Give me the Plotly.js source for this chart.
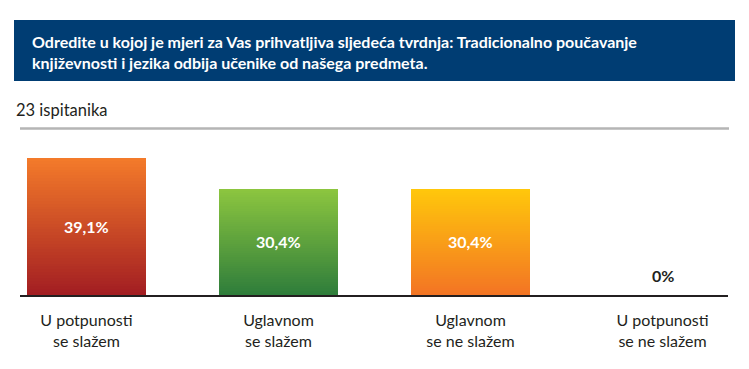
<!DOCTYPE html>
<html>
<head>
<meta charset="utf-8">
<script src="https://cdn.plot.ly/plotly-3.0.1.min.js"></script>
<style>
html,body{margin:0;padding:0;background:#fff;}
#chart{width:749px;height:369px;}
</style>
</head>
<body>
<div id="chart"></div>
<script>
// ---- data ----
var categories = ["U potpunosti<br>se slažem", "Uglavnom<br>se slažem", "Uglavnom<br>se ne slažem", "U potpunosti<br>se ne slažem"];
var values = [39.1, 30.4, 30.4, 0];
var topColors = ["#F47B2A", "#8DC63F", "#FFC80B", "#F47B2A"];
var bottomColors = ["#A21D22", "#2E7D3B", "#F37424", "#A21D22"];
var titleText = "Odredite u kojoj je mjeri za Vas prihvatljiva sljedeća tvrdnja: Tradicionalno poučavanje<br>književnosti i jezika odbija učenike od našega predmeta.";
var subtitleText = "23 ispitanika";

// ---- helpers ----
function hexToRgb(h){h=h.replace('#','');return [parseInt(h.substr(0,2),16),parseInt(h.substr(2,2),16),parseInt(h.substr(4,2),16)];}
function mix(a,b,t){var A=hexToRgb(a),B=hexToRgb(b);return 'rgb('+A.map(function(v,i){return Math.round(v+(B[i]-v)*t);}).join(',')+')';}
function fmt(v){return (v===0?'0':v.toFixed(1).replace('.',','))+'%';}

var W=749,H=369;
function px(x){return x/W;}
function py(y){return (H-y)/H;}

// gradient bars: each bar is stacked from thin slices of its own value
var K = 48;
var traces = [];
for (var k=0;k<K;k++){
  var t=(k+0.5)/K;
  traces.push({
    type:'bar',
    x:categories,
    y:values.map(function(v){return v/K;}),
    marker:{color:values.map(function(v,i){return mix(bottomColors[i],topColors[i],t);}), line:{width:0}},
    hoverinfo:'skip',
    showlegend:false
  });
}

var annotations = values.map(function(v,i){
  return {
    x:categories[i], y:v===0?0:v/2, xref:'x', yref:'y',
    text:fmt(v), showarrow:false,
    yshift:v===0?20:0,
    font:{family:'Lato, "Open Sans", sans-serif', size:16, color:v===0?'#231F20':'#ffffff', weight:'bold'}
  };
});
annotations.push({
  xref:'paper', yref:'paper', x:px(30), y:py(52), xanchor:'left', yanchor:'middle',
  text:'<b>'+titleText+'</b>', align:'left', showarrow:false,
  font:{family:'Lato, sans-serif', size:16, color:'#ffffff'}
});
annotations.push({
  xref:'paper', yref:'paper', x:px(14), y:py(110), xanchor:'left', yanchor:'middle',
  text:subtitleText, showarrow:false,
  font:{family:'Lato, sans-serif', size:16.5, color:'#231F20'}
});

var layout = {
  width:W, height:H,
  margin:{l:0,r:0,t:0,b:0},
  paper_bgcolor:'#ffffff', plot_bgcolor:'#ffffff',
  barmode:'stack', bargap:0.38,
  showlegend:false,
  xaxis:{
    domain:[px(20), px(728)],
    type:'category',
    range:[-0.346, 3.341],
    showgrid:false, zeroline:false,
    showline:true, linecolor:'#231F20', linewidth:1.5,
    ticks:'', ticklabelstandoff:10,
    tickfont:{family:'Lato, sans-serif', size:16, color:'#231F20'},
    fixedrange:true
  },
  yaxis:{
    domain:[py(295), py(155)],
    range:[0,40],
    visible:false, showgrid:false, zeroline:false,
    fixedrange:true
  },
  shapes:[
    {type:'rect', xref:'paper', yref:'paper', x0:px(14), x1:px(735), y0:py(81), y1:py(20), fillcolor:'#003D73', line:{width:0}, layer:'below'},
    {type:'line', xref:'paper', yref:'paper', x0:px(20), x1:px(729), y0:py(128.5), y1:py(128.5), line:{color:'#B5B5B5', width:2.5}}
  ],
  annotations:annotations
};

Plotly.newPlot('chart', traces, layout, {displayModeBar:false, staticPlot:true});
</script>
</body>
</html>
